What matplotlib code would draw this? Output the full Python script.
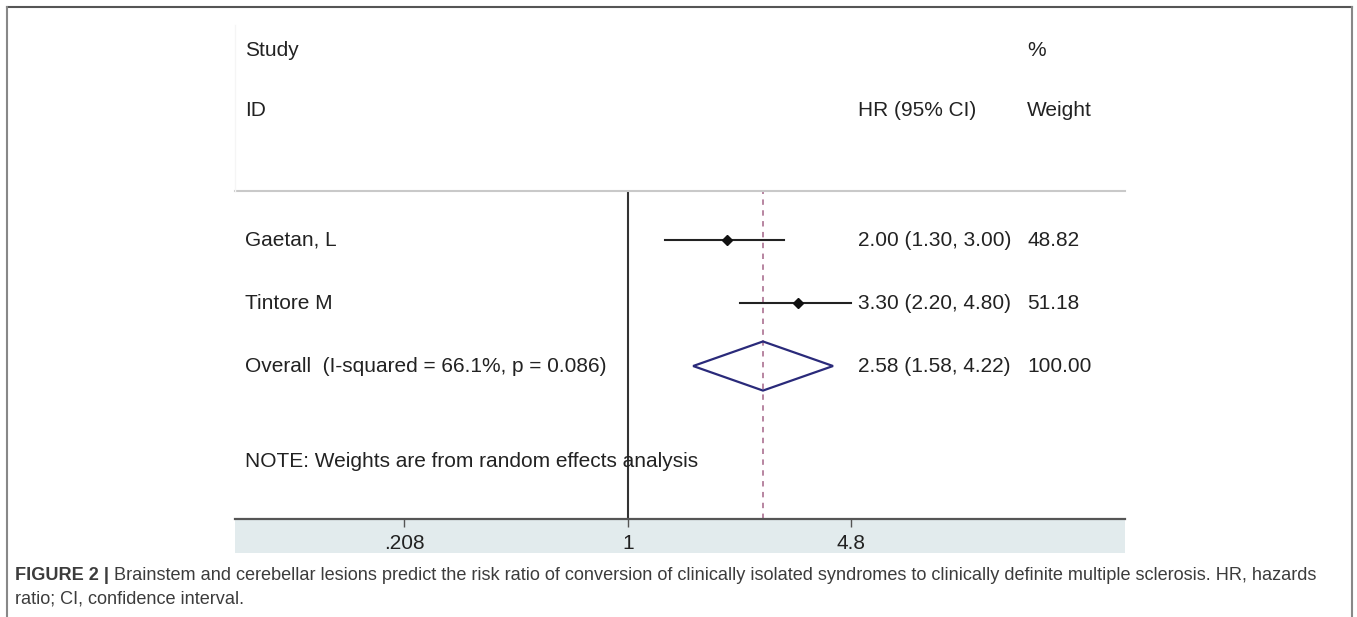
import matplotlib
matplotlib.use("Agg")
import matplotlib.pyplot as plt
from matplotlib.lines import Line2D
from matplotlib.patches import Rectangle, Polygon
from matplotlib.transforms import blended_transform_factory
import numpy as np

# ---------------- data ----------------
studies = ["Gaetan, L", "Tintore M"]
hr = [2.00, 3.30]
ci_low = [1.30, 2.20]
ci_high = [3.00, 4.80]
weights = ["48.82", "51.18"]

overall_label = "Overall  (I-squared = 66.1%, p = 0.086)"
overall_hr = 2.58
overall_low = 1.58
overall_high = 4.22
overall_weight = "100.00"

xticks = [0.208, 1, 4.8]
xtick_labels = [".208", "1", "4.8"]

note = "NOTE: Weights are from random effects analysis"
caption_bold = "FIGURE 2 |"
caption_rest = ("Brainstem and cerebellar lesions predict the risk ratio of conversion of "
                "clinically isolated syndromes to clinically definite multiple sclerosis. HR, hazards")
caption_line2 = "ratio; CI, confidence interval."

# ---------------- layout ----------------
W, H = 1357, 617
FONT = "Liberation Sans"
plt.rcParams["font.family"] = [FONT, "DejaVu Sans"]

fig = plt.figure(figsize=(W / 100, H / 100), dpi=100)
fig.patch.set_facecolor("white")

def fx(x):
    return x / W

def fy(y):
    return 1 - y / H

ax_left, ax_right, ax_top, ax_bottom = 235, 1125, 191, 519
ax = fig.add_axes([fx(ax_left), fy(ax_bottom), fx(ax_right - ax_left), (ax_bottom - ax_top) / H])
ax.set_xscale("log")
# 1 at x=628 px, 142.4 px per natural-log unit
px_per_ln = 142.4
xmin = np.exp((ax_left - 628) / px_per_ln)
xmax = np.exp((ax_right - 628) / px_per_ln)
ax.set_xlim(xmin, xmax)
ax.set_ylim(5.43, 0.22)
ax.patch.set_alpha(0)

for s in ["left", "right"]:
    ax.spines[s].set_visible(False)
ax.spines["top"].set_color("#c9c9c9")
ax.spines["top"].set_linewidth(1.5)
ax.spines["bottom"].set_color("#555555")
ax.spines["bottom"].set_linewidth(1.6)

ax.set_yticks([])
ax.set_xticks(xticks)
ax.set_xticklabels(xtick_labels)
ax.minorticks_off()
ax.tick_params(axis="x", direction="out", length=6, width=1.0, color="#555555",
               labelsize=15, pad=5, labelcolor="#222222")

# band under axis
band_h = 34 / (ax_bottom - ax_top)
ax.add_patch(Rectangle((0, -band_h), 1, band_h, transform=ax.transAxes,
                       facecolor="#e2ebed", edgecolor="none", clip_on=False, zorder=0))

# reference lines
ax.axvline(1, color="#333333", lw=1.5, zorder=2)
ax.axvline(overall_hr, color="#b27c9a", lw=1.3, ls=(0, (3, 3)), zorder=2)

rows = [1, 2]
overall_row = 3
note_row = 4.52
txt_kw = dict(fontsize=15, color="#222222", va="center")

label_x = fx(245)
value_x = fx(858)
weight_x = fx(1027)

tr = blended_transform_factory(fig.transFigure, ax.transData)

for r, name, h, lo, hi, w in zip(rows, studies, hr, ci_low, ci_high, weights):
    ax.plot([lo, hi], [r, r], color="#222222", lw=1.5, zorder=3)
    ax.plot([h], [r], marker="D", ms=5, color="#111111", zorder=4)
    ax.text(label_x, r, name, transform=tr, **txt_kw)
    ax.text(value_x, r, f"{h:.2f} ({lo:.2f}, {hi:.2f})", transform=tr, **txt_kw)
    ax.text(weight_x, r, w, transform=tr, **txt_kw)

dh = 0.39
diamond = Polygon([[overall_low, overall_row], [overall_hr, overall_row - dh],
                   [overall_high, overall_row], [overall_hr, overall_row + dh]],
                  closed=True, fill=False, edgecolor="#2a2a7a", lw=1.6, zorder=4)
ax.add_patch(diamond)
ax.text(label_x, overall_row, overall_label, transform=tr, **txt_kw)
ax.text(value_x, overall_row, f"{overall_hr:.2f} ({overall_low:.2f}, {overall_high:.2f})",
        transform=tr, **txt_kw)
ax.text(weight_x, overall_row, overall_weight, transform=tr, **txt_kw)
ax.text(label_x, note_row, note, transform=tr, **txt_kw)

# headers
hdr_kw = dict(fontsize=15, color="#222222", va="center")
fig.text(fx(245), fy(51), "Study", **hdr_kw)
fig.text(fx(1027), fy(51), "%", **hdr_kw)
fig.text(fx(245), fy(110), "ID", **hdr_kw)
fig.text(fx(858), fy(110), "HR (95% CI)", **hdr_kw)
fig.text(fx(1027), fy(110), "Weight", **hdr_kw)

# faint edge of the pasted plot image
fig.add_artist(Line2D([fx(235), fx(235)], [fy(25), fy(191)], transform=fig.transFigure,
                      color="#f5f5f5", lw=1.0))

# outer border
for (x0, y0, x1, y1, c) in [(7, 7, 1352, 7, "#555555"), (7, 7, 7, 617, "#888888"),
                            (1352, 7, 1352, 617, "#888888")]:
    fig.add_artist(Line2D([fx(x0), fx(x1)], [fy(y0), fy(y1)], transform=fig.transFigure,
                          color=c, lw=1.5))

# caption
cap_kw = dict(fontsize=13.1, color="#3c3c3c", va="center")
t1 = fig.text(fx(15), fy(575), caption_bold, fontweight="bold", **cap_kw)
fig.canvas.draw()
bb = t1.get_window_extent(renderer=fig.canvas.get_renderer())
fig.text(bb.x1 / W + fx(5), fy(575), caption_rest, **cap_kw)
fig.text(fx(15), fy(599), caption_line2, **cap_kw)

fig.savefig("out.png", dpi=100, facecolor="white")
